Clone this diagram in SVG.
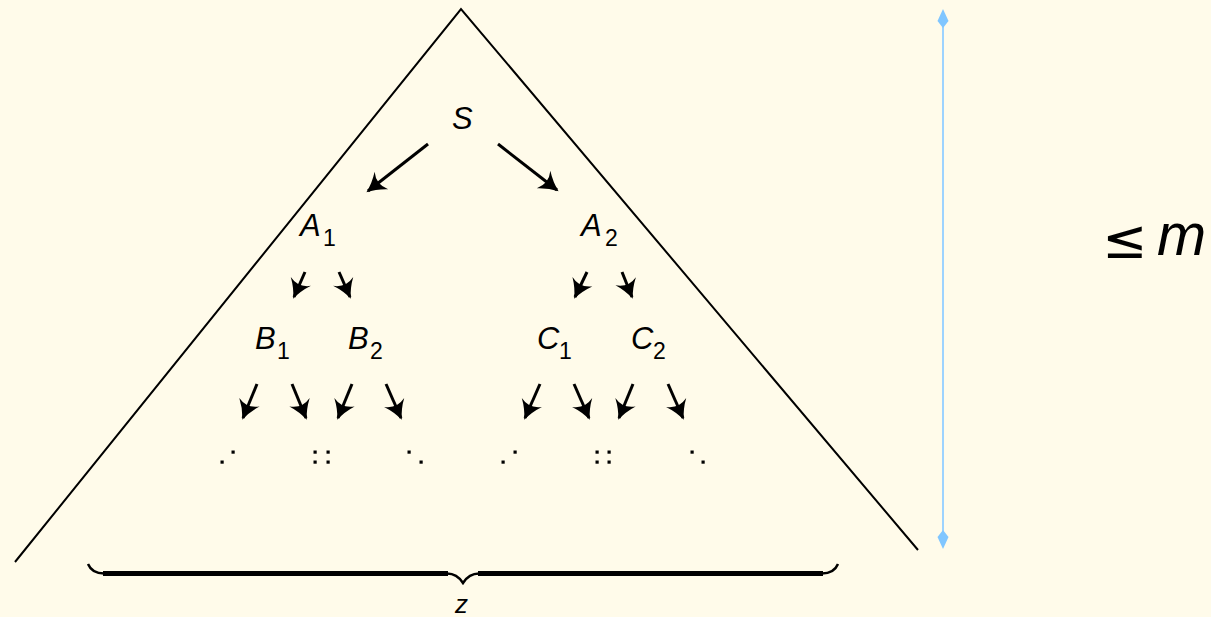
<svg xmlns="http://www.w3.org/2000/svg" width="1211" height="617" viewBox="0 0 1211 617">
<defs>
<style>
.lbl{font-family:"Liberation Sans",Arial,sans-serif;font-style:italic;font-size:31px;fill:#000}
.sub{font-family:"Liberation Sans",Arial,sans-serif;font-size:23px;fill:#000}
.arr{stroke:#000;stroke-width:3;fill:none;marker-end:url(#ah)}
.dot{fill:#000}
</style>
<marker id="ah" viewBox="-22 -14 28 28" refX="0" refY="0" markerWidth="28" markerHeight="28" markerUnits="userSpaceOnUse" orient="auto">
<path d="M2,0 Q-8,-3.5 -17,-11 Q-10,0 -17,11 Q-8,3.5 2,0 Z" fill="#000"/>
</marker>
</defs>
<rect width="1211" height="617" fill="#FFFBEA"/>
<g id="triangle">
<polyline points="15,562 461,9 918,550" fill="none" stroke="#000" stroke-width="2"/>
</g>
<g id="height">
<line x1="943" y1="24" x2="943" y2="533" stroke="#9dd3ff" stroke-width="2"/>
<polygon points="943,9 937.5,21 943,28 948.5,21" fill="#80c6ff"/>
<polygon points="943,549 937.5,537 943,530 948.5,537" fill="#80c6ff"/>
</g>
<g id="bound">
<text x="1102" y="258" style="font-family:'DejaVu Sans',sans-serif;font-size:54px;fill:#000">≤</text>
<text x="1157" y="255" style="font-family:'Liberation Sans',Arial,sans-serif;font-style:italic;font-size:59px;fill:#000">m</text>
</g>
<g id="node-S"><text class="lbl" x="452" y="129">S</text></g>
<g id="node-A1"><text class="lbl" x="300" y="236">A</text><text class="sub" x="323" y="246">1</text></g>
<g id="node-A2"><text class="lbl" x="581" y="236">A</text><text class="sub" x="605" y="246">2</text></g>
<g id="node-B1"><text class="lbl" x="255" y="349">B</text><text class="sub" x="277" y="359">1</text></g>
<g id="node-B2"><text class="lbl" x="348" y="349">B</text><text class="sub" x="370" y="359">2</text></g>
<g id="node-C1"><text class="lbl" x="537" y="349">C</text><text class="sub" x="559" y="359">1</text></g>
<g id="node-C2"><text class="lbl" x="631" y="349">C</text><text class="sub" x="653" y="359">2</text></g>
<g id="dots">
<rect class="dot" x="220.5" y="460.5" width="3.2" height="3.2"/><rect class="dot" x="231.5" y="450.5" width="3.2" height="3.2"/>
<rect class="dot" x="313.5" y="450.5" width="3.2" height="3.2"/><rect class="dot" x="313.5" y="460.5" width="3.2" height="3.2"/>
<rect class="dot" x="326.5" y="450.5" width="3.2" height="3.2"/><rect class="dot" x="326.5" y="460.5" width="3.2" height="3.2"/>
<rect class="dot" x="407.5" y="450.5" width="3.2" height="3.2"/><rect class="dot" x="419.5" y="460.5" width="3.2" height="3.2"/>
<rect class="dot" x="501.5" y="460.5" width="3.2" height="3.2"/><rect class="dot" x="513.5" y="450.5" width="3.2" height="3.2"/>
<rect class="dot" x="595.5" y="450.5" width="3.2" height="3.2"/><rect class="dot" x="595.5" y="460.5" width="3.2" height="3.2"/>
<rect class="dot" x="607.5" y="450.5" width="3.2" height="3.2"/><rect class="dot" x="607.5" y="460.5" width="3.2" height="3.2"/>
<rect class="dot" x="690.5" y="450.5" width="3.2" height="3.2"/><rect class="dot" x="701.5" y="460.5" width="3.2" height="3.2"/>
</g>
<g id="connectors">
<line class="arr" x1="428" y1="144" x2="368" y2="191"/>
<line class="arr" x1="498" y1="144" x2="557" y2="190"/>
<line class="arr" x1="305" y1="272" x2="294" y2="297"/>
<line class="arr" x1="339" y1="272" x2="350" y2="297"/>
<line class="arr" x1="587" y1="272" x2="575" y2="297"/>
<line class="arr" x1="622" y1="272" x2="632" y2="297"/>
<line class="arr" x1="257" y1="384" x2="243" y2="418"/>
<line class="arr" x1="292" y1="384" x2="306" y2="418"/>
<line class="arr" x1="352" y1="384" x2="338" y2="418"/>
<line class="arr" x1="386" y1="384" x2="401" y2="418"/>
<line class="arr" x1="540" y1="384" x2="525" y2="418"/>
<line class="arr" x1="574" y1="384" x2="589" y2="418"/>
<line class="arr" x1="633" y1="384" x2="619" y2="418"/>
<line class="arr" x1="668" y1="384" x2="683" y2="418"/>
</g>
<g id="brace">
<path d="M88,564 Q92,573.5 104,573.5 M447,573.5 Q457,573.5 463,583 Q469,573.5 479,573.5 M822,573.5 Q834,573.5 838,564" fill="none" stroke="#000" stroke-width="2.5"/>
<path d="M103,573.5 H448 M478,573.5 H823" fill="none" stroke="#000" stroke-width="5"/>
<text x="455" y="613" style="font-family:'Liberation Sans',Arial,sans-serif;font-style:italic;font-size:26px;fill:#000">z</text>
</g>
</svg>
